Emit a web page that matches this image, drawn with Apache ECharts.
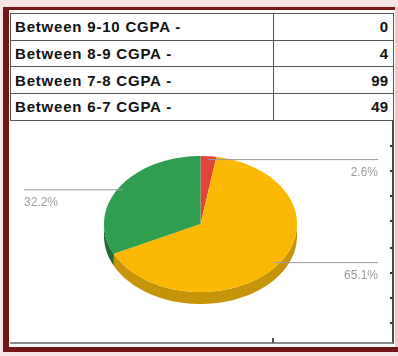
<!DOCTYPE html>
<html>
<head>
<meta charset="utf-8">
<script src="https://cdn.jsdelivr.net/npm/echarts@6/dist/echarts.min.js"></script>
<style>
  html, body { margin: 0; padding: 0; }
  body { width: 398px; height: 356px; position: relative; overflow: hidden; background: #f7e4e4; font-family: "Liberation Sans", Arial, sans-serif; }
  #paper { position: absolute; left: 3px; top: 7px; width: 395px; height: 345px; background: #fff; }
  #barL { position: absolute; left: 3px; top: 7px; width: 6px; height: 345px; background: #741515; }
  #barT { position: absolute; left: 3px; top: 7px; width: 395px; height: 3px; background: #7a1a1a; }
  #barB { position: absolute; left: 3px; top: 347px; width: 395px; height: 5px; background: #741515; }
  #barR { position: absolute; left: 395px; top: 7px; width: 3px; height: 345px; background: #f1c9c9; }
  #tbl { position: absolute; left: 10px; top: 13px; width: 384px; border-collapse: collapse; }
  #tbl td { border: 1px solid #555; height: 25.7px; padding: 0 5px 0 4px; font-weight: bold; font-size: 15px; color: #111; letter-spacing: 0.8px; white-space: nowrap; }
  #tbl td.v { text-align: right; letter-spacing: 0; }
  #rightLine { position: absolute; left: 392px; top: 120px; width: 2px; height: 224px; background: #4a4a4a; }
  #bottomLine { position: absolute; left: 10px; top: 342px; width: 383px; height: 2px; background: #8a8a8a; }
  #tick { position: absolute; left: 272px; top: 338px; width: 2px; height: 5px; background: #555; }
  .dot { position: absolute; left: 390px; width: 2px; height: 2px; background: #333; }
  #chart { position: absolute; left: 0; top: 0; width: 398px; height: 356px; }
</style>
</head>
<body>
<div id="paper"></div>
<div id="barL"></div>
<div id="barT"></div>
<div id="barR"></div>
<div id="barB"></div>
<table id="tbl"></table>
<div id="rightLine"></div>
<div id="bottomLine"></div>
<div id="tick"></div>
<div id="chart"></div>
<script>
// ---- data ----
const categories = ['Between 9-10 CGPA -', 'Between 8-9 CGPA -', 'Between 7-8 CGPA -', 'Between 6-7 CGPA -'];
const counts = [0, 4, 99, 49];
const sliceColors = ['#4285f4', '#e0443a', '#fbb903', '#2f9e4f'];
const sideColors = ['#2a5db0', '#9c2a22', '#c69408', '#1f6b36'];

// ---- table ----
const tbl = document.getElementById('tbl');
categories.forEach(function (c, i) {
  const tr = document.createElement('tr');
  const a = document.createElement('td'); a.textContent = c; a.style.width = '253px';
  const b = document.createElement('td'); b.className = 'v'; b.textContent = String(counts[i]);
  tr.appendChild(a); tr.appendChild(b); tbl.appendChild(tr);
});
[145, 170, 195, 220, 247, 272, 297, 322].forEach(function (y) {
  const d = document.createElement('div'); d.className = 'dot'; d.style.top = y + 'px'; document.body.appendChild(d);
});

// ---- pie layout ----
const CX = 200.5, CY = 224, RX = 96.5, RY = 68, DEPTH = 12;
const LABEL_RIGHT = 378, LABEL_LEFT = 24;
const total = counts.reduce(function (s, v) { return s + v; }, 0);
const starts = [];
(function () { let acc = 0; counts.forEach(function (v) { starts.push(acc); acc += v; }); })();

function pt(t, k, dy) {
  return [CX + RX * k * Math.sin(t), CY - RY * k * Math.cos(t) + (dy || 0)];
}
function arc(a, b, dy) {
  const n = Math.max(2, Math.ceil((b - a) / (Math.PI / 90)));
  const out = [];
  for (let i = 0; i <= n; i++) out.push(pt(a + (b - a) * i / n, 1, dy));
  return out;
}

const chart = echarts.init(document.getElementById('chart'), null, { renderer: 'canvas' });
chart.setOption({
  animation: false,
  backgroundColor: 'transparent',
  series: [{
    type: 'custom',
    coordinateSystem: 'none',
    data: counts.map(function (v, i) { return { name: categories[i], value: v }; }),
    renderItem: function (params, api) {
      const i = params.dataIndex;
      const v = api.value(0);
      if (!v) return { type: 'group', children: [] };
      const a = 2 * Math.PI * starts[i] / total;
      const b = 2 * Math.PI * (starts[i] + v) / total;
      const children = [];
      // side wall on the front half
      const sa = Math.max(a, Math.PI / 2), sb = Math.min(b, 1.5 * Math.PI);
      if (sb > sa) {
        const top = arc(sa, sb, 0);
        const bot = arc(sa, sb, DEPTH).reverse();
        children.push({ type: 'polygon', z2: 1, shape: { points: top.concat(bot) }, style: { fill: sideColors[i] } });
      }
      // top face
      children.push({ type: 'polygon', z2: 10, shape: { points: [[CX, CY]].concat(arc(a, b, 0)) }, style: { fill: sliceColors[i] } });
      // label
      const m = (a + b) / 2;
      const p = pt(m, 0.95, 0);
      const right = Math.sin(m) >= 0;
      const xe = right ? LABEL_RIGHT : LABEL_LEFT;
      children.push({ type: 'line', z2: 20, shape: { x1: p[0], y1: p[1], x2: xe, y2: p[1] }, style: { stroke: '#9a9a9a', lineWidth: 1 } });
      children.push({ type: 'text', z2: 20, style: {
        text: (v / total * 100).toFixed(1) + '%', x: xe, y: p[1] + 13,
        align: right ? 'right' : 'left', verticalAlign: 'middle',
        fill: '#9b9b9b', font: '12px "Liberation Sans", Arial, sans-serif'
      } });
      return { type: 'group', children: children };
    }
  }]
});
</script>
</body>
</html>
